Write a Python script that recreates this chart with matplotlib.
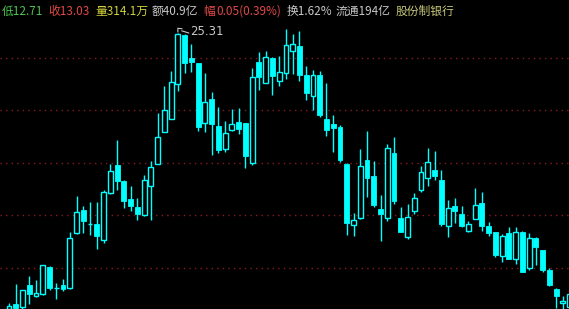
import matplotlib
matplotlib.use("Agg")
import matplotlib.pyplot as plt
from matplotlib.patches import Rectangle

plt.rcParams['font.family'] = ['Noto Sans CJK SC', 'DejaVu Sans']

# daily K-line data (open, high, low, close)
opens = [12.34, 12.57, 12.43, 13.47, 12.95, 13.04, 14.31, 13.32, 13.47, 13.32,
         15.91, 16.99, 16.33, 16.33, 15.58, 17.79, 19.11, 18.35, 17.51, 17.13,
         16.76, 18.12, 19.15, 20.66, 21.27, 22.91, 25.22, 24.14, 23.90, 21.08,
         22.21, 20.94, 19.86, 20.75, 21.13, 21.08, 19.20, 23.95, 22.96, 24.14,
         23.05, 23.43, 24.46, 24.70, 23.34, 22.35, 23.34, 21.27, 21.03, 20.89,
         19.15, 16.29, 16.61, 19.34, 18.59, 17.04, 16.61, 19.67, 16.61, 15.72,
         16.94, 17.93, 18.50, 18.87, 18.40, 16.24, 17.18, 16.80, 16.00, 16.57,
         17.32, 16.24, 15.96, 14.83, 15.91, 14.69, 15.96, 14.26, 15.67, 15.11,
         14.17, 13.28, 12.62, 12.45]
highs = [12.62, 13.51, 13.23, 13.89, 13.70, 14.41, 14.36, 13.56, 13.75, 15.96,
         17.65, 17.18, 17.37, 17.37, 17.93, 19.15, 20.28, 18.40, 18.12, 17.55,
         18.64, 19.29, 21.55, 22.82, 23.52, 25.31, 25.26, 24.79, 23.90, 23.43,
         22.54, 21.83, 21.17, 21.74, 21.78, 21.08, 23.66, 24.42, 24.46, 24.18,
         24.23, 25.50, 25.26, 25.40, 23.76, 23.57, 23.52, 22.96, 21.46, 20.99,
         19.20, 16.85, 19.86, 20.70, 19.29, 17.70, 20.09, 20.42, 17.13, 17.27,
         17.79, 19.06, 19.90, 19.76, 18.87, 17.46, 17.55, 17.18, 16.47, 18.02,
         17.84, 16.43, 15.96, 15.86, 16.19, 16.19, 16.00, 15.91, 15.72, 15.11,
         14.26, 13.32, 12.95, 13.10]
lows = [12.29, 12.29, 12.34, 12.57, 12.90, 13.00, 13.23, 12.81, 13.19, 13.28,
        15.86, 15.91, 15.81, 15.16, 15.44, 17.74, 17.93, 17.08, 16.94, 16.52,
        16.71, 16.52, 19.15, 20.66, 21.27, 22.58, 23.43, 23.48, 20.70, 20.66,
        19.58, 19.67, 19.72, 20.70, 20.56, 18.96, 19.11, 22.63, 22.96, 22.40,
        22.82, 23.15, 23.38, 23.05, 22.16, 21.69, 21.36, 20.47, 19.72, 19.25,
        15.81, 15.77, 16.57, 17.60, 17.13, 15.53, 16.47, 17.27, 15.96, 15.63,
        16.80, 17.84, 18.12, 18.40, 16.24, 15.72, 16.38, 16.19, 15.96, 16.57,
        16.00, 15.77, 14.78, 14.55, 14.69, 14.45, 14.08, 14.17, 14.41, 14.08,
        13.42, 12.39, 12.34, 12.40]
closes = [12.48, 12.39, 13.23, 13.04, 13.09, 14.41, 13.32, 13.33, 13.28, 15.67,
          16.90, 16.47, 16.34, 15.77, 17.84, 18.82, 18.35, 17.41, 17.18, 16.80,
          18.40, 19.01, 20.42, 21.69, 23.01, 25.26, 23.90, 23.95, 20.89, 22.07,
          21.03, 19.81, 20.61, 21.03, 20.80, 19.53, 23.24, 23.24, 24.18, 23.29,
          23.48, 24.75, 24.79, 23.34, 22.49, 23.34, 21.46, 20.75, 20.85, 19.34,
          16.38, 16.52, 19.06, 18.50, 17.23, 16.80, 19.90, 17.41, 15.96, 16.66,
          17.55, 18.78, 19.25, 18.59, 16.33, 17.08, 16.94, 16.24, 16.33, 17.23,
          16.24, 15.91, 14.88, 15.77, 14.69, 15.96, 14.08, 15.67, 15.25, 14.17,
          13.47, 12.95, 12.71, 13.03]

grid_levels = [24.14, 21.67, 19.20, 16.76, 14.29]
peak_label = "25.31"
peak_index = 25

header = [
    (2, "低12.71", "#4cc44c"),
    (48, "收13.03", "#e04848"),
    (95, "量314.1万", "#d2d23c"),
    (152, "额40.9亿", "#c8c8c8"),
    (203, "幅", "#e04848"),
    (216, "0.05(0.39%)", "#e04848"),
    (287, "换1.62%", "#c8c8c8"),
    (336, "流通194亿", "#c8c8c8"),
    (396, "股份制银行", "#c8c87a"),
]

cyan = "#00ffff"
fig = plt.figure(figsize=(5.69, 3.09), dpi=100, facecolor="black")
ax = fig.add_axes([0, 0, 1, 1])
ax.set_facecolor("black")
ax.set_xlim(-1.33, 82.9)
ax.set_ylim(12.34, 26.86)
ax.axis("off")

for g in grid_levels:
    ax.axhline(g, color="#8a1a1a", linewidth=1, linestyle=(0, (1, 3)), zorder=1)

w = 0.72
for i in range(len(opens)):
    o, h, l, c = opens[i], highs[i], lows[i], closes[i]
    top, bot = max(o, c), min(o, c)
    ax.vlines(i, top, h, color=cyan, linewidth=1, zorder=2)
    ax.vlines(i, l, bot, color=cyan, linewidth=1, zorder=2)
    if c >= o:
        rect = Rectangle((i - w / 2, bot), w, max(top - bot, 0.01),
                         facecolor="black", edgecolor=cyan, linewidth=1, zorder=3)
    else:
        rect = Rectangle((i - w / 2, bot), w, top - bot,
                         facecolor=cyan, edgecolor=cyan, linewidth=0.6, zorder=3)
    ax.add_patch(rect)

# peak marker
px, py = peak_index, highs[peak_index]
ax.plot([px, px, px + 0.6], [py + 0.05, py + 0.22, py + 0.2], color="#c8c8c8", linewidth=0.8)
ax.plot([px + 0.6, px + 1.6], [py + 0.1, py + 0.0], color="#c8c8c8", linewidth=0.8)
ax.text(px + 1.8, py + 0.05, peak_label, color="#c8c8c8", fontsize=8.5,
        va="center", ha="left", family="DejaVu Sans")

for x, s, col in header:
    fig.text(x / 569, 1 - 11 / 309, s, color=col, fontsize=8.5, ha="left", va="center")

fig.savefig("out.png", dpi=100, facecolor="black")
